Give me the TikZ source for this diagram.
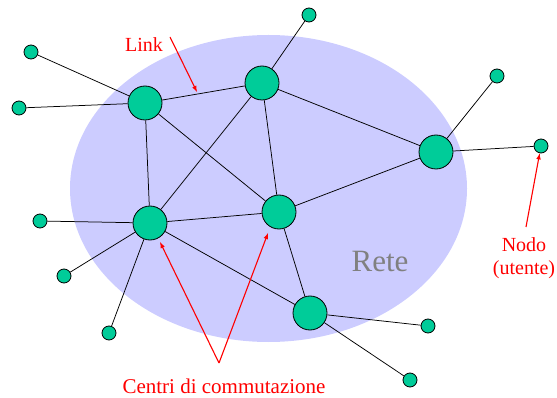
\documentclass[tikz,border=0pt]{standalone}
\usepackage{fontspec}
\setmainfont{Liberation Serif}
\newfontfamily\timesfont{Liberation Serif}
\usetikzlibrary{arrows}

\definecolor{retefill}{RGB}{204,204,255}
\definecolor{nodofill}{RGB}{0,204,153}

\tikzset{
  hub/.style={circle,draw,fill=nodofill,line width=0.8pt,minimum size=34pt,inner sep=0pt},
  host/.style={circle,draw,fill=nodofill,line width=0.8pt,minimum size=14pt,inner sep=0pt},
  link/.style={draw,line width=0.75pt},
  pointer/.style={draw=red,line width=1.1pt,-latex},
  redlabel/.style={text=red,font=\timesfont\fontsize{20}{23}\selectfont,align=center}
}

\begin{document}
\begin{tikzpicture}[x=1pt,y=-1pt]
\useasboundingbox (0,0) rectangle (557,398);
\fill[retefill] (268.5,188.5) ellipse [x radius=198.5pt, y radius=153.5pt];
\node[text=gray,font=\timesfont\fontsize{31}{34}\selectfont] (rete) at (380,262) {Rete};
% centri di commutazione
\node[hub] (A) at (145,103) {};
\node[hub] (B) at (262,83) {};
\node[hub] (C) at (436,152) {};
\node[hub] (D) at (150,223) {};
\node[hub] (E) at (279,212) {};
\node[hub] (F) at (310,313) {};
% nodi utente
\node[host] (u1) at (31,52) {};
\node[host] (u2) at (19,108) {};
\node[host] (u3) at (309,15) {};
\node[host] (u4) at (497,76) {};
\node[host] (u5) at (541,146) {};
\node[host] (u6) at (40,221) {};
\node[host] (u7) at (64,276) {};
\node[host] (u8) at (109,333) {};
\node[host] (u9) at (428,326) {};
\node[host] (u10) at (410,380) {};
\draw[link] (A) -- (B);
\draw[link] (A) -- (D);
\draw[link] (A) -- (E);
\draw[link] (B) -- (D);
\draw[link] (B) -- (E);
\draw[link] (B) -- (C);
\draw[link] (C) -- (E);
\draw[link] (D) -- (E);
\draw[link] (D) -- (F);
\draw[link] (E) -- (F);
\draw[link] (A) -- (u1);
\draw[link] (A) -- (u2);
\draw[link] (B) -- (u3);
\draw[link] (C) -- (u4);
\draw[link] (C) -- (u5);
\draw[link] (D) -- (u6);
\draw[link] (D) -- (u7);
\draw[link] (D) -- (u8);
\draw[link] (F) -- (u9);
\draw[link] (F) -- (u10);
% etichette
\node[redlabel] (lnk) at (144,45) {Link};
\coordinate (lnk-tail) at (170,37);
\coordinate (lnk-tip) at (197,92);
\draw[pointer] (lnk-tail) -- (lnk-tip);
\node[redlabel] (nodo) at (524,258) {Nodo\\(utente)};
\coordinate (nodo-tail) at (526,227);
\draw[pointer] (nodo-tail) -- (u5);
\node[redlabel,font=\timesfont\fontsize{21}{24}\selectfont] (cc) at (224,386) {Centri di commutazione};
\coordinate (cc-tail) at (219,363);
\coordinate (cc-tip1) at (160,242);
\coordinate (cc-tip2) at (268,233);
\draw[pointer] (cc-tail) -- (cc-tip1);
\draw[pointer] (cc-tail) -- (cc-tip2);
\end{tikzpicture}
\end{document}
